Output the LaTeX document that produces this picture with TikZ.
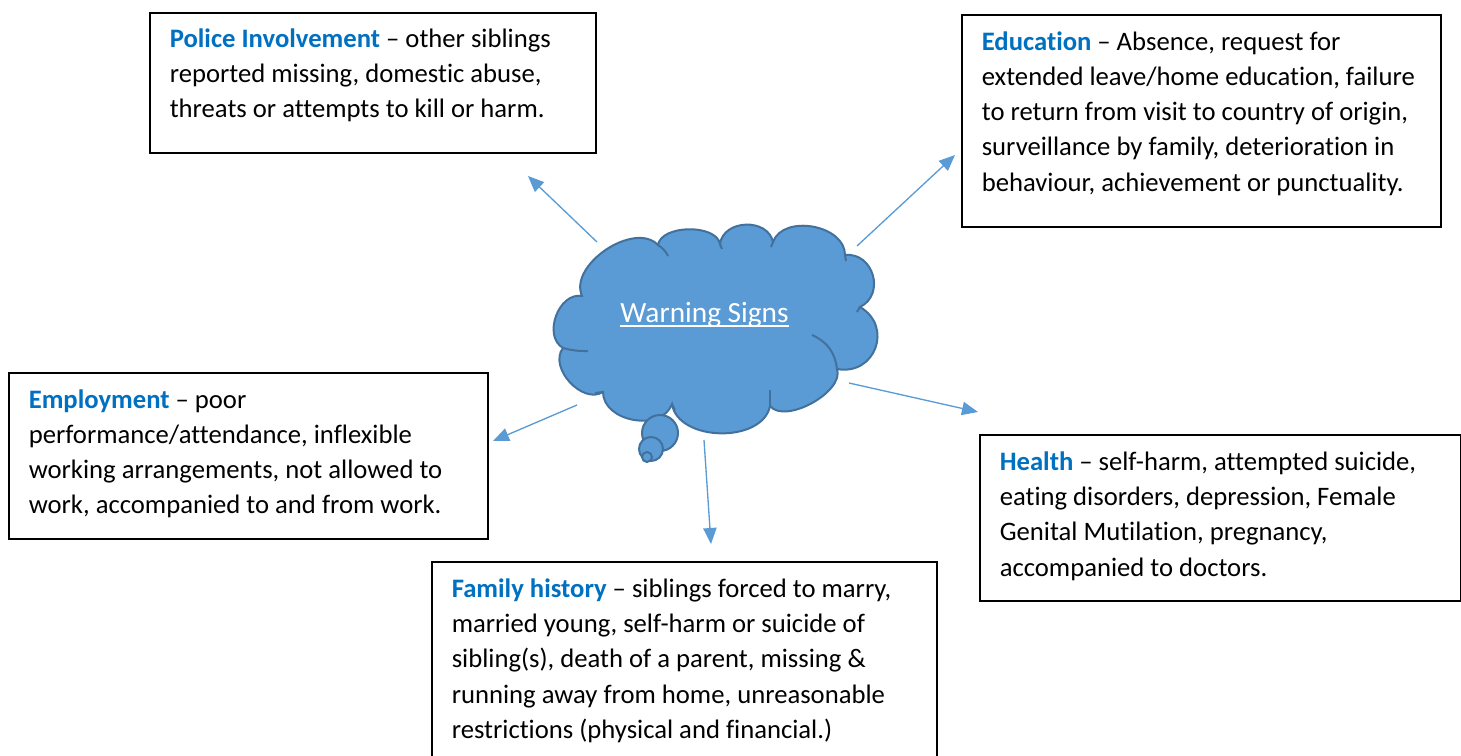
\documentclass[tikz,border=0pt]{standalone}
\usepackage{fontspec}
\setmainfont{Carlito}[Ligatures=NoCommon]
\usetikzlibrary{arrows.meta}
\definecolor{headblue}{HTML}{0070C0}
\definecolor{cloudfill}{HTML}{5B9BD5}
\definecolor{cloudedge}{HTML}{41719C}
\newcommand{\hd}[1]{\textbf{\textcolor{headblue}{#1}}}
\newcommand{\ulwhite}[1]{\setbox0\hbox{#1}\rlap{\rule[-3.4pt]{\wd0}{1.2pt}}\box0}
\begin{document}
\begin{tikzpicture}[x=0.75pt,y=-0.75pt,>={Triangle[length=12pt,width=10pt]},
	sign box/.style={draw,line width=1.2pt,anchor=north west,align=flush left,inner xsep=15pt,inner ysep=0pt,text height=27pt},
	cloud line/.style={draw=cloudedge,line width=1.5pt},
	pointer/.style={->,draw=cloudfill,line width=1pt}]
	\tikzstyle{every node}=[font=\fontsize{20}{26.3}\selectfont]
	\useasboundingbox (0,0) rectangle (1461,756);
	\draw
		(149,12) node[sign box,text width=304.5pt,text height=26.25pt,text depth=78.75pt](pol) {\hd{Police Involvement} – other siblings\\reported missing, domestic abuse,\\threats or attempts to kill or harm.}
		(961,14) node[sign box,text width=329.25pt,text depth=132pt](edu) {\hd{Education} – Absence, request for\\extended leave/home education, failure\\to return from visit to country of origin,\\surveillance by family, deterioration in\\behaviour, achievement or punctuality.}
		(8,372) node[sign box,text width=329.25pt,text depth=97.5pt](emp) {\hd{Employment} – poor\\performance/attendance, inflexible\\working arrangements, not allowed to\\work, accompanied to and from work.}
		(979,434) node[sign box,text width=330.75pt,text depth=97.5pt](hea) {\hd{Health} – self-harm, attempted suicide,\\eating disorders, depression, Female\\Genital Mutilation, pregnancy,\\accompanied to doctors.}
		(431,561) node[sign box,text width=348.75pt,text depth=120.75pt](fam) {\hd{Family history} – siblings forced to marry,\\married young, self-harm or suicide of\\sibling(s), death of a parent, missing \&\\running away from home, unreasonable\\restrictions (physical and financial.)};
	\filldraw[cloud line,fill=cloudfill]
		(563,348) to[bend left=80,looseness=1.1] (582,296)
		to[bend left=80,looseness=0.95] (658,245)
		to[bend left=80,looseness=0.85] (720,244)
		to[bend left=80,looseness=1.2] (773,242)
		to[bend left=80,looseness=1.05] (845,255)
		to[bend left=80,looseness=1.35] (860,307)
		to[bend left=80,looseness=1.5] (837,369)
		to[bend left=80,looseness=0.8] (770,406)
		to[bend left=80,looseness=1.0] (672,404)
		to[bend left=80,looseness=1.1] (603,392)
		to[bend left=80,looseness=1.05] (563,348) -- cycle;
	\draw[cloud line] (812,335) to[bend left=30] (837,369);
	\draw[cloud line] (563,348) to[bend right=8] (588,351);
	\draw[cloud line] (770,390) -- (770,406);
	\draw[cloud line] (658,245) to[bend left=15] (668,256);
	\draw[cloud line] (672,404) -- (675,410);
	\draw[cloud line] (603,392) -- (595,393);
	\draw[cloud line] (860,307) -- (857,312);
	\draw[cloud line] (720,244) -- (722,249);
	\draw[cloud line] (773,242) -- (771,247);
	\draw[cloud line] (845,255) -- (846,261);
	\filldraw[cloud line,fill=cloudfill] (660,433) circle[radius=13.5pt];
	\filldraw[cloud line,fill=cloudfill] (651,449) circle[radius=9pt];
	\filldraw[cloud line,fill=cloudfill] (647,457) circle[radius=3.75pt];
	\node[font=\fontsize{22}{26}\selectfont,text=white,anchor=base](warn) at (704.5,322) {\ulwhite{Warning Signs}};
	\coordinate (pol-s) at (597,242);
	\coordinate (pol-t) at (528,176);
	\coordinate (edu-s) at (857,246);
	\coordinate (edu-t) at (955,155);
	\coordinate (emp-s) at (577,405);
	\coordinate (emp-t) at (493,441);
	\coordinate (fam-s) at (704,440);
	\coordinate (fam-t) at (711,544);
	\coordinate (hea-s) at (849,383);
	\coordinate (hea-t) at (978,412);
	\draw[pointer] (pol-s) to (pol-t);
	\draw[pointer] (edu-s) to (edu-t);
	\draw[pointer] (emp-s) to (emp-t);
	\draw[pointer] (fam-s) to (fam-t);
	\draw[pointer] (hea-s) to (hea-t);
\end{tikzpicture}
\end{document}
